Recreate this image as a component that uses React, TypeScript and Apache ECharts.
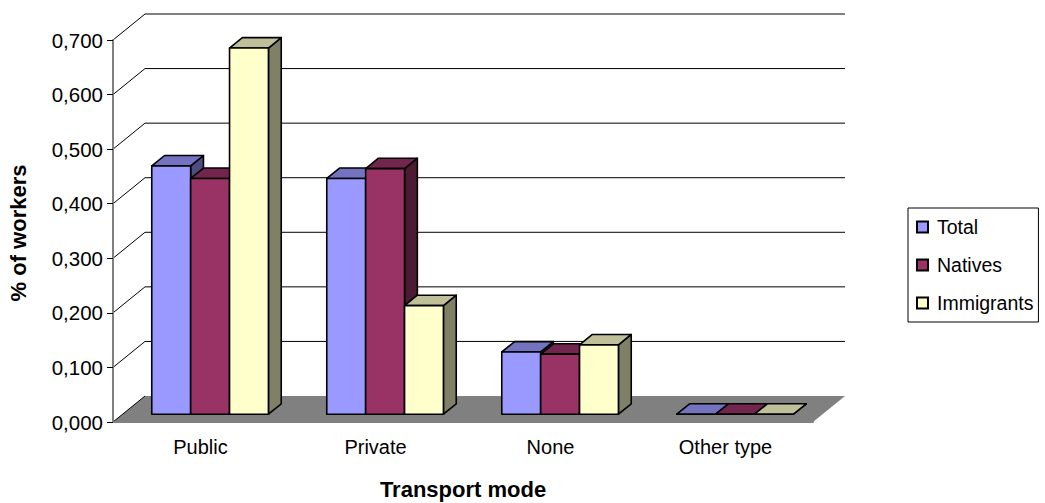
import React, { useEffect, useRef } from "react";
import * as echarts from "echarts";

const categories = ["Public", "Private", "None", "Other type"];
const seriesNames = ["Total", "Natives", "Immigrants"];
const totalValues = [0.455, 0.432, 0.114, 0];
const nativeValues = [0.432, 0.45, 0.11, 0];
const immigrantValues = [0.671, 0.199, 0.127, 0];
const tickValues = [0, 0.1, 0.2, 0.3, 0.4, 0.5, 0.6, 0.7];
const xAxisTitle = "Transport mode";
const yAxisTitle = "% of workers";

// Face colours per series: front, top (lit less), side (in shadow)
const frontColors = ["#9999FF", "#993366", "#FFFFCC"];
const topColors = ["#7373BF", "#73264D", "#BFBF99"];
const sideColors = ["#4D4D80", "#4D1A33", "#808066"];

// Oblique projection of the plot's depth axis, in screen pixels
const DEPTH_X = 32;
const DEPTH_Y = 26;
const BAR_FRONT = 0.3; // depth at which a bar's front face stands
const BAR_DEPTH = 0.4; // depth taken up by a bar
const BAND_UNITS = 4.5; // three bars plus the gap, in bar widths

const FONT = "'Liberation Sans', Arial, sans-serif";
const OUTLINE = 1.6;

function floorItem(params: any) {
  const { x, y, width, height } = params.coordSys;
  const bottom = y + height;
  return {
    type: "polygon",
    shape: {
      points: [
        [x, bottom],
        [x + width, bottom],
        [x + width + DEPTH_X, bottom - DEPTH_Y],
        [x + DEPTH_X, bottom - DEPTH_Y],
      ],
    },
    style: { fill: "#808080", stroke: "none" },
  };
}

function wallLineItem(params: any, api: any) {
  const { x, width } = params.coordSys;
  const yPx = api.coord([0, api.value(0)])[1];
  const isFloor = api.value(0) === 0;
  const points = isFloor
    ? [
        [x, yPx],
        [x + DEPTH_X, yPx - DEPTH_Y],
      ]
    : [
        [x, yPx],
        [x + DEPTH_X, yPx - DEPTH_Y],
        [x + width + DEPTH_X, yPx - DEPTH_Y],
      ];
  return {
    type: "polyline",
    shape: { points },
    style: { fill: "none", stroke: "#000", lineWidth: 1 },
  };
}

function barItem(seriesIndex: number) {
  return (_params: any, api: any) => {
    const center = api.coord([api.value(0), 0]);
    const barWidth = api.size([1, 0])[0] / BAND_UNITS;
    const dx = DEPTH_X * BAR_DEPTH;
    const dy = DEPTH_Y * BAR_DEPTH;
    const left = center[0] + (seriesIndex - 1.5) * barWidth + DEPTH_X * BAR_FRONT;
    const right = left + barWidth;
    const base = center[1] - DEPTH_Y * BAR_FRONT;
    const top = base - api.size([0, api.value(1)])[1];
    const edge = { stroke: "#000", lineWidth: OUTLINE, lineJoin: "round" };
    return {
      type: "group",
      children: [
        {
          type: "polygon",
          shape: {
            points: [
              [right, base],
              [right, top],
              [right + dx, top - dy],
              [right + dx, base - dy],
            ],
          },
          style: { fill: sideColors[seriesIndex], ...edge },
        },
        {
          type: "polygon",
          shape: {
            points: [
              [left, top],
              [right, top],
              [right + dx, top - dy],
              [left + dx, top - dy],
            ],
          },
          style: { fill: topColors[seriesIndex], ...edge },
        },
        {
          type: "polygon",
          shape: {
            points: [
              [left, base],
              [right, base],
              [right, top],
              [left, top],
            ],
          },
          style: { fill: frontColors[seriesIndex], ...edge },
        },
      ],
    };
  };
}

export default function App() {
  const ref = useRef<HTMLDivElement>(null);

  useEffect(() => {
    const chart = echarts.init(ref.current!, undefined, { renderer: "svg" });
    const valueRows = [totalValues, nativeValues, immigrantValues];
    chart.setOption({
      animation: false,
      backgroundColor: "#fff",
      textStyle: { fontFamily: FONT },
      grid: { left: 113, top: 40, width: 700, height: 382, outerBoundsMode: "none" },
      legend: {
        data: seriesNames.map((name) => ({ name, icon: "rect" })),
        orient: "vertical",
        left: 908,
        top: 208,
        padding: [9, 5, 9, 8],
        borderColor: "#000",
        borderWidth: 1,
        itemWidth: 11,
        itemHeight: 11,
        itemGap: 18,
        selectedMode: false,
        textStyle: {
          fontFamily: FONT,
          fontSize: 19.5,
          color: "#000",
          padding: [0, 0, 0, 4],
        },
      },
      xAxis: {
        type: "category",
        data: categories,
        name: xAxisTitle,
        nameLocation: "middle",
        nameGap: 56,
        nameTextStyle: { fontFamily: FONT, fontSize: 22, fontWeight: "bold", color: "#000" },
        z: 5,
        axisLine: { lineStyle: { color: "#808080", width: 2 } },
        axisTick: { length: 7, lineStyle: { color: "#000", width: 1 } },
        axisLabel: { fontFamily: FONT, fontSize: 20, color: "#000", margin: 15 },
        splitLine: { show: false },
      },
      yAxis: {
        type: "value",
        min: 0,
        max: 0.7,
        interval: 0.1,
        name: yAxisTitle,
        nameLocation: "middle",
        nameGap: 84,
        nameTextStyle: {
          fontFamily: FONT,
          fontSize: 22,
          fontWeight: "bold",
          color: "#000",
          padding: [0, 4, 0, 0],
        },
        z: 5,
        axisLine: { show: true, lineStyle: { color: "#808080", width: 2 } },
        axisTick: { show: true, length: 6, lineStyle: { color: "#000", width: 1 } },
        axisLabel: {
          fontFamily: FONT,
          fontSize: 20.5,
          color: "#000",
          margin: 10,
          formatter: (v: number) => v.toFixed(3).replace(".", ","),
        },
        splitLine: { show: false },
      },
      series: [
        {
          type: "custom",
          name: "floor",
          data: [[0]],
          renderItem: floorItem,
          silent: true,
          clip: false,
          z: 1,
        },
        {
          type: "custom",
          name: "walls",
          data: tickValues.map((v) => [v]),
          encode: { y: 0 },
          renderItem: wallLineItem,
          silent: true,
          clip: false,
          z: 1,
        },
        ...seriesNames.map((name, i) => ({
          type: "custom",
          name,
          data: valueRows[i].map((v, c) => [c, v]),
          encode: { x: 0, y: 1 },
          renderItem: barItem(i),
          clip: false,
          z: 2,
          itemStyle: { color: frontColors[i], borderColor: "#000", borderWidth: 1.3 },
        })),
      ],
    });
    return () => chart.dispose();
  }, []);

  return (
    <div
      ref={ref}
      style={{ position: "absolute", left: 0, top: 0, width: 1045, height: 503 }}
    />
  );
}
